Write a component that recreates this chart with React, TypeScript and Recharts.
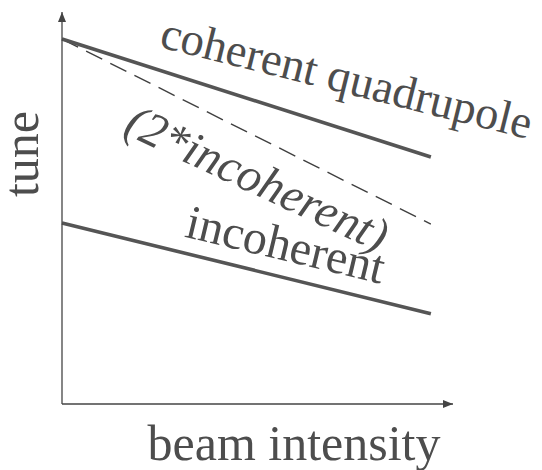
import { LineChart, Line, XAxis, YAxis, ReferenceDot } from 'recharts';

// beam intensity (arbitrary units) at the two ends of each line
const intensity = [0, 10];
// tune values, same arbitrary scale
const coherentTune = [9.31, 6.3];
const doubledIncoherentTune = [9.31, 4.59];
const incoherentTune = [4.62, 2.3];

const xTitle = 'beam intensity';
const yTitle = 'tune';

// curve labels: text, anchor point in data units, rotation, size, italic
const curveLabels = [
  { text: 'coherent quadrupole', x: 7.72, y: 8.32, angle: 14, size: 46.5, italic: false },
  { text: '(2*incoherent)', x: 5.3, y: 5.77, angle: 25, size: 48, italic: true },
  { text: 'incoherent', x: 6.07, y: 4.08, angle: 13.5, size: 48, italic: false },
];

const toSeries = (ys: number[]) => intensity.map((x, i) => ({ x, y: ys[i] }));

const FONT = '"Liberation Serif", "DejaVu Serif", serif';
const INK = '#4d4d4d';

const renderXTitle = (props: any) => {
  const vb = props.viewBox;
  return (
    <text x={vb.x + 232} y={vb.y + 56} textAnchor="middle" fontFamily={FONT} fontSize={50} fill={INK}>
      {xTitle}
    </text>
  );
};

const renderYTitle = (props: any) => {
  const vb = props.viewBox;
  const x = 38;
  const y = vb.y + 142;
  return (
    <text x={x} y={y} transform={`rotate(-90 ${x} ${y})`} textAnchor="middle" fontFamily={FONT} fontSize={50} fill={INK}>
      {yTitle}
    </text>
  );
};

const makeLabel = (text: string, angle: number, size: number, italic: boolean) => (props: any) => {
  const { cx, cy } = props;
  return (
    <text
      x={cx}
      y={cy}
      transform={`rotate(${angle} ${cx} ${cy})`}
      textAnchor="middle"
      dominantBaseline="central"
      fontFamily={FONT}
      fontSize={size}
      fontStyle={italic ? 'italic' : 'normal'}
      fill={INK}
    >
      {text}
    </text>
  );
};

export default function App() {
  return (
    <div style={{ position: 'absolute', left: 0, top: 0, width: 542, height: 470, background: '#fff' }}>
      <svg width={0} height={0} style={{ position: 'absolute' }}>
        <defs>
          <marker id="axisArrow" viewBox="0 0 10 8" refX={10} refY={4} markerWidth={10} markerHeight={8}
            markerUnits="userSpaceOnUse" orient="auto-start-reverse">
            <path d="M0,0 L10,4 L0,8 z" fill="#444" />
          </marker>
        </defs>
      </svg>
      <LineChart width={542} height={470} margin={{ top: 12, right: 89, bottom: 0, left: 0 }}>
        <XAxis
          type="number"
          dataKey="x"
          domain={[0, 10.6]}
          ticks={[]}
          tick={false}
          tickLine={false}
          height={66}
          axisLine={{ stroke: '#444', strokeWidth: 1.3, markerEnd: 'url(#axisArrow)' }}
          label={renderXTitle}
        />
        <YAxis
          type="number"
          domain={[0, 10]}
          ticks={[]}
          tick={false}
          tickLine={false}
          width={62}
          axisLine={{ stroke: '#444', strokeWidth: 1.3, markerStart: 'url(#axisArrow)' }}
          label={renderYTitle}
        />
        <Line data={toSeries(doubledIncoherentTune)} dataKey="y" type="linear" stroke="#3f3f3f"
          strokeWidth={1.4} strokeDasharray="18 9" dot={false} isAnimationActive={false} />
        <Line data={toSeries(coherentTune)} dataKey="y" type="linear" stroke="#555"
          strokeWidth={3.6} dot={false} isAnimationActive={false} />
        <Line data={toSeries(incoherentTune)} dataKey="y" type="linear" stroke="#555"
          strokeWidth={3.6} dot={false} isAnimationActive={false} />
        {curveLabels.map((l) => (
          <ReferenceDot key={l.text} x={l.x} y={l.y} r={0} ifOverflow="visible"
            shape={makeLabel(l.text, l.angle, l.size, l.italic)} />
        ))}
      </LineChart>
    </div>
  );
}
